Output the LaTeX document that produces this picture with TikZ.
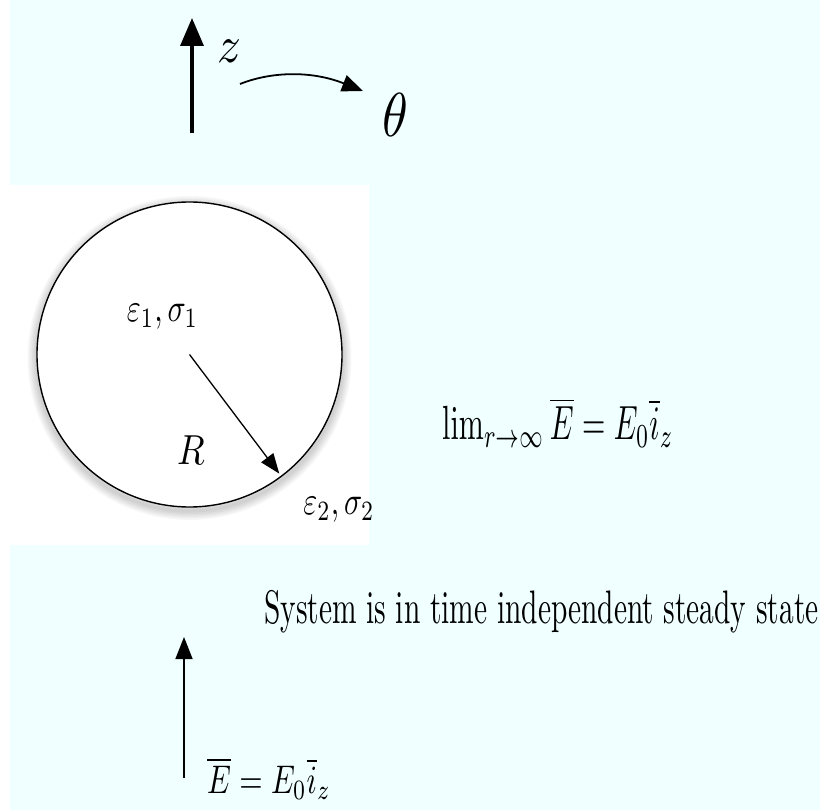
\documentclass[tikz,border=0pt]{standalone}
\usepackage{amsmath,amssymb}
\usepackage{graphicx}
\usetikzlibrary{arrows.meta,positioning}
\definecolor{paleblue}{RGB}{240,255,255}
\newcommand{\stretched}[3]{\scalebox{#1}[#2]{#3}}
\tikzset{
  symbol/.style={
    inner sep = 0pt,
    font = \fontsize{10}{12}\selectfont
  },
  fieldarrow/.style={
    line width = 1.6pt,
    -{Triangle[length=22pt,width=17pt]}
  }
}

\begin{document}
\begin{tikzpicture}[x=1pt,y=-1pt]
  \useasboundingbox (0,0) rectangle (820,810);
  \fill[paleblue] (0,0) rectangle (820,810);
  \fill[white] (0,185) rectangle (369,545);
  \fill[white] (0,0) rectangle (10,810);
  % axes
  \coordinate (zb) at (192,133);
  \coordinate (zt) at (192,18);
  \draw[line width=3.6pt,-{Triangle[length=28pt,width=23pt]}] (zb) -- (zt);
  \node[symbol] (z) at (229,51) {\stretched{4.7}{5.2}{$z$}};
  \coordinate (th1) at (240,84);
  \coordinate (th2) at (363,91);
  \draw[line width=1.8pt,-{Triangle[length=21pt,width=17pt]}] (th1) .. controls (270,72) and (310,70) .. (th2);
  \node[symbol] (theta) at (395,115) {\stretched{5.2}{6.2}{$\theta$}};
  % sphere
  \foreach \w in {3,6,...,18}
    \draw[black,opacity=0.03,line width=\w pt] (189.5,358) circle (153pt);
  \node[circle,draw,fill=white,line width=1.4pt,minimum size=305pt,inner sep=0pt] (sph) at (189.5,354.5) {};
  \node[symbol] (eps1) at (162.5,317) {\stretched{3}{4}{$\varepsilon_1,\sigma_1$}};
  \node[symbol] (r) at (191,450) {\stretched{3.6}{4.2}{$R$}};
  \draw[fieldarrow,line width=1.3pt,-{Triangle[length=20pt,width=15pt]},shorten >=4pt] (sph.center) -- (sph.-53);
  \node[symbol] (eps2) at (339,510) {\stretched{3}{4}{$\varepsilon_2,\sigma_2$}};
  % far field
  \node[symbol,anchor=base west] (lim) at (442,440) {\stretched{3}{4.8}{$\lim_{r\to\infty}\overline{E}=E_0\overline{i}_z$}};
  \node[symbol,anchor=base west] (steady) at (264,623) {\stretched{2.94}{4.7}{System is in time independent steady state}};
  \coordinate (eb) at (184,778);
  \coordinate (et) at (184,637);
  \draw[fieldarrow] (eb) -- (et);
  \node[symbol,anchor=base west] (efield) at (207,793) {\stretched{3}{4}{$\overline{E}=E_0\overline{i}_z$}};
\end{tikzpicture}
\end{document}
